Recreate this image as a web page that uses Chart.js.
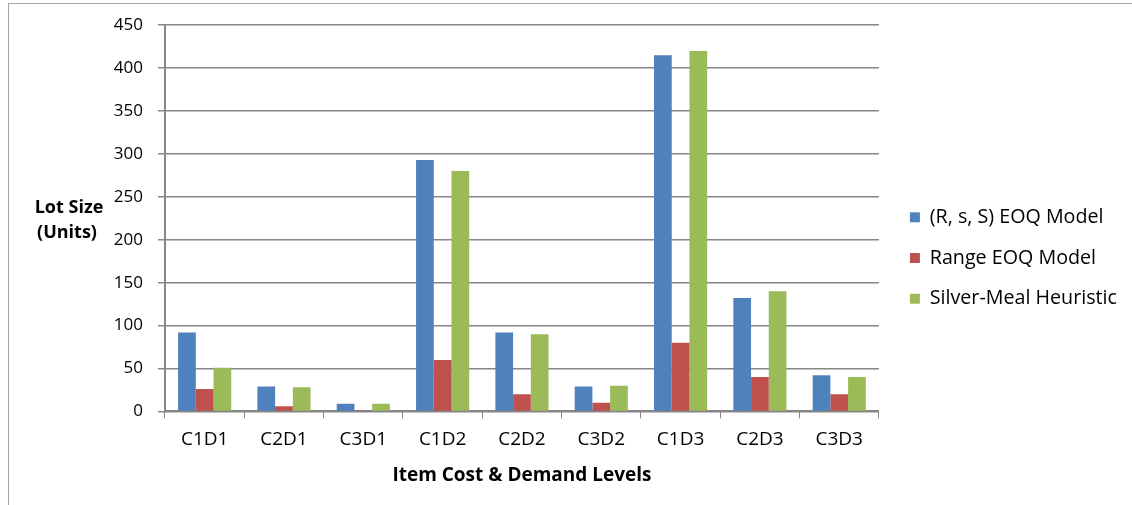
<!doctype html>
<html lang="en">
<head>
<meta charset="utf-8" />
<title>Lot Size by Item Cost &amp; Demand Level</title>
<script src="https://cdn.jsdelivr.net/npm/chart.js@4.4.4/dist/chart.umd.min.js"></script>
<style>
  body { margin: 0; background: #fff; overflow: hidden; }
  .frame { position: absolute; left: 8px; top: 3px; width: 1300px; height: 700px; border-left: 1px solid #a6a6a6; border-top: 1px solid #a6a6a6; }
  .wrap { position: absolute; left: 0; top: 0; width: 1132px; height: 505px; }
</style>
</head>
<body>
<div class="frame"></div>
<div class="wrap"><canvas id="chart"></canvas></div>
<script>
const categories = ["C1D1", "C2D1", "C3D1", "C1D2", "C2D2", "C3D2", "C1D3", "C2D3", "C3D3"];
const rsSEoq = [92, 29, 9, 293, 92, 29, 415, 132, 42];
const rangeEoq = [26, 6, 1, 60, 20, 10, 80, 40, 20];
const silverMeal = [51, 28, 9, 280, 90, 30, 420, 140, 40];
const yTicks = [0, 50, 100, 150, 200, 250, 300, 350, 400, 450];

const FONT = "'Open Sans', sans-serif";
const AXIS = "#868686";

// horizontal two-line y title to the left of the tick labels
const yTitle = {
  id: "yTitle",
  afterDraw(chart) {
    const { ctx, chartArea } = chart;
    ctx.save();
    ctx.fillStyle = "#000";
    ctx.font = "bold 18px " + FONT;
    ctx.textAlign = "center";
    ctx.textBaseline = "middle";
    const cy = (chartArea.top + chartArea.bottom) / 2;
    ctx.fillText("Lot Size", 69, cy - 10);
    ctx.fillText("(Units)", 67, cy + 15);
    ctx.restore();
  },
};

// push the legend a little further from the plot without widening row spacing
const legendGap = {
  id: "legendGap",
  afterLayout(chart) {
    chart.legend.left += 10;
    chart.legend.right += 10;
  },
};

new Chart(document.getElementById("chart"), {
  type: "bar",
  data: {
    labels: categories,
    datasets: [
      { label: "(R, s, S) EOQ Model", data: rsSEoq, backgroundColor: "#4f81bd" },
      { label: "Range EOQ Model", data: rangeEoq, backgroundColor: "#c0504d" },
      { label: "Silver-Meal Heuristic", data: silverMeal, backgroundColor: "#9bbb59" },
    ],
  },
  options: {
    animation: false,
    responsive: true,
    maintainAspectRatio: false,
    layout: { padding: { top: 25, right: 15, bottom: 14, left: 0 } },
    datasets: { bar: { barPercentage: 1, categoryPercentage: 0.67 } },
    scales: {
      x: {
        grid: { offset: true, drawOnChartArea: false, drawTicks: true, tickLength: 7, color: AXIS },
        border: { color: AXIS, width: 2 },
        ticks: { color: "#000", font: { family: FONT, size: 19 }, padding: 10 },
        title: { display: true, text: "Item Cost & Demand Levels", color: "#000", font: { family: FONT, size: 19, weight: "bold" }, padding: { top: 3 } },
      },
      y: {
        min: 0,
        max: 450,
        afterBuildTicks: (s) => { s.ticks = yTicks.map((v) => ({ value: v })); },
        afterFit: (s) => { s.width = 165; },
        grid: { color: AXIS, lineWidth: 1.5, tickLength: 7 },
        border: { color: AXIS, width: 2 },
        ticks: { color: "#000", font: { family: FONT, size: 17 }, padding: 15 },
      },
    },
    plugins: {
      legend: {
        position: "right",
        labels: { boxWidth: 10, boxHeight: 10, padding: 21, color: "#000", font: { family: FONT, size: 19.7 } },
      },
      tooltip: { enabled: false },
    },
  },
  plugins: [yTitle, legendGap],
});
</script>
</body>
</html>
